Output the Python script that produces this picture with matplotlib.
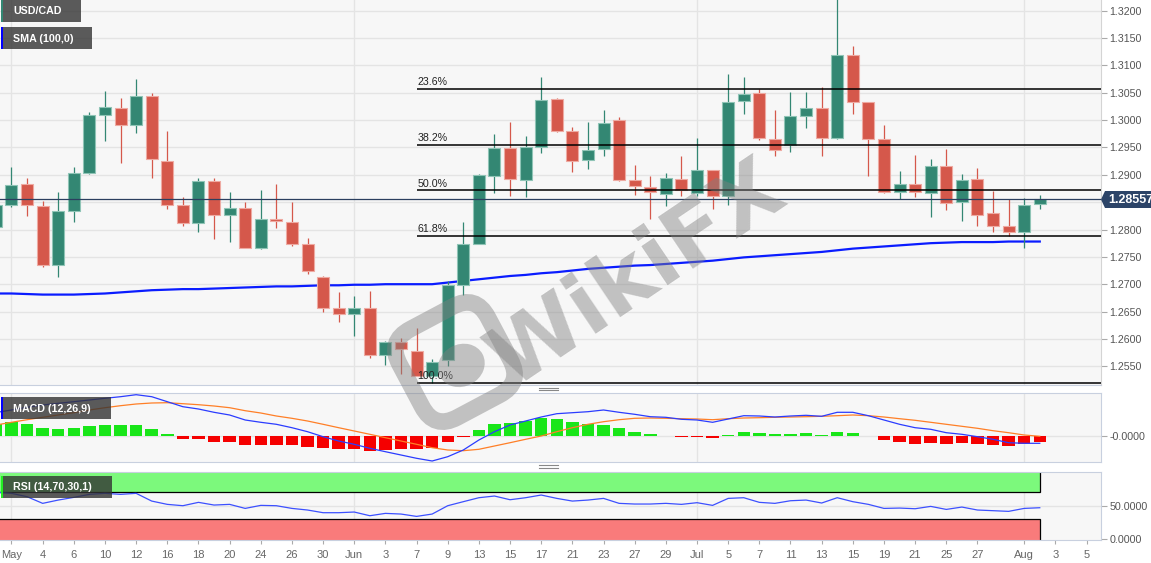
import numpy as np
import pandas as pd
import matplotlib
matplotlib.use('Agg')
import matplotlib.pyplot as plt
from matplotlib.patches import Rectangle, FancyBboxPatch, Polygon, Ellipse
from matplotlib.transforms import Affine2D

plt.rcParams['font.family'] = ['Liberation Sans', 'DejaVu Sans']

# daily USD/CAD candles, Apr 29 - Aug 2 2022
dates = pd.bdate_range('2022-04-29', '2022-08-02')
opens = [1.2805, 1.2845, 1.2883, 1.2843, 1.2736, 1.2834, 1.2903, 1.3010, 1.3023, 1.2991,
         1.3044, 1.2925, 1.2844, 1.2811, 1.2888, 1.2826, 1.2839, 1.2767, 1.2819, 1.2814,
         1.2774, 1.2713, 1.2656, 1.2646, 1.2656, 1.2570, 1.2594, 1.2578, 1.2532, 1.2561,
         1.2699, 1.2774, 1.2898, 1.2949, 1.2890, 1.2951, 1.3038, 1.2980, 1.2927, 1.2947,
         1.3000, 1.2890, 1.2878, 1.2865, 1.2892, 1.2866, 1.2908, 1.2862, 1.3035, 1.3050,
         1.2965, 1.2954, 1.3007, 1.3023, 1.2967, 1.3119, 1.3033, 1.2965, 1.2869, 1.2883,
         1.2867, 1.2917, 1.2850, 1.2892, 1.2831, 1.2807, 1.2795, 1.2847]
highs = [1.2880, 1.2914, 1.2894, 1.2853, 1.2868, 1.2914, 1.3015, 1.3053, 1.3040, 1.3076,
         1.3049, 1.2981, 1.2859, 1.2895, 1.2894, 1.2868, 1.2850, 1.2873, 1.2884, 1.2850,
         1.2784, 1.2715, 1.2686, 1.2678, 1.2688, 1.2596, 1.2601, 1.2620, 1.2564, 1.2705,
         1.2813, 1.2901, 1.2975, 1.2996, 1.2971, 1.3078, 1.3040, 1.2988, 1.2996, 1.3018,
         1.3005, 1.2918, 1.2897, 1.2903, 1.2935, 1.2968, 1.2909, 1.3084, 1.3078, 1.3056,
         1.3018, 1.3051, 1.3051, 1.3060, 1.3223, 1.3135, 1.3034, 1.2991, 1.2907, 1.2937,
         1.2929, 1.2947, 1.2902, 1.2912, 1.2871, 1.2856, 1.2857, 1.2863]
lows = [1.2795, 1.2841, 1.2825, 1.2731, 1.2713, 1.2813, 1.2901, 1.2961, 1.2921, 1.2977,
        1.2894, 1.2837, 1.2807, 1.2796, 1.2782, 1.2777, 1.2766, 1.2764, 1.2802, 1.2769,
        1.2718, 1.2650, 1.2630, 1.2605, 1.2565, 1.2552, 1.2536, 1.2532, 1.2519, 1.2550,
        1.2680, 1.2773, 1.2866, 1.2862, 1.2860, 1.2939, 1.2979, 1.2906, 1.2911, 1.2935,
        1.2889, 1.2863, 1.2819, 1.2843, 1.2861, 1.2862, 1.2837, 1.2845, 1.3012, 1.2964,
        1.2935, 1.2941, 1.2985, 1.2935, 1.2966, 1.3012, 1.2898, 1.2866, 1.2855, 1.2860,
        1.2822, 1.2835, 1.2816, 1.2807, 1.2795, 1.2789, 1.2767, 1.2837]
closes = [1.2845, 1.2881, 1.2844, 1.2736, 1.2834, 1.2903, 1.3009, 1.3024, 1.2991, 1.3044,
          1.2928, 1.2845, 1.2811, 1.2889, 1.2826, 1.2839, 1.2767, 1.2819, 1.2816, 1.2774,
          1.2725, 1.2656, 1.2646, 1.2656, 1.2570, 1.2594, 1.2581, 1.2532, 1.2558, 1.2699,
          1.2774, 1.2899, 1.2949, 1.2892, 1.2951, 1.3037, 1.2980, 1.2925, 1.2946, 1.2994,
          1.2890, 1.2879, 1.2869, 1.2894, 1.2873, 1.2908, 1.2862, 1.3034, 1.3047, 1.2967,
          1.2945, 1.3007, 1.3023, 1.2967, 1.3119, 1.3033, 1.2965, 1.2869, 1.2883, 1.2868,
          1.2917, 1.2848, 1.2891, 1.2827, 1.2807, 1.2795, 1.2845, 1.28557]
sma100 = [1.2683, 1.2683, 1.2682, 1.2681, 1.2681, 1.2681, 1.2682, 1.2683, 1.2685, 1.2687,
          1.2689, 1.2690, 1.2691, 1.2691, 1.2692, 1.2693, 1.2694, 1.2695, 1.2696, 1.2696,
          1.2697, 1.2698, 1.2698, 1.2699, 1.2699, 1.2700, 1.2700, 1.2700, 1.2700, 1.2703,
          1.2706, 1.2709, 1.2712, 1.2715, 1.2717, 1.2720, 1.2722, 1.2725, 1.2728, 1.2730,
          1.2732, 1.2734, 1.2735, 1.2737, 1.2739, 1.2741, 1.2743, 1.2746, 1.2749, 1.2751,
          1.2753, 1.2755, 1.2757, 1.2759, 1.2762, 1.2765, 1.2767, 1.2769, 1.2771, 1.2773,
          1.2775, 1.2776, 1.2777, 1.2777, 1.2777, 1.2778, 1.2778, 1.2778]

# MACD (12,26,9), in units of 1e-4
macd_line = [23.5, 26, 28.7, 31, 32.7, 34.3, 36, 37.7, 39.3, 41.3, 39.3, 34.3, 29.3, 27, 23.7,
             21, 16, 13.7, 11.7, 8.3, 4.3, -0.7, -5,
             -8.3, -12.3, -15.7, -19, -22.3, -25, -20.7, -14, -4, 4.3, 11, 15, 19, 22.3, 23.3,
             24.3, 26, 23.7, 21.7, 19.3, 18.7, 16.7,
             16, 13.7, 17, 20.3, 20, 19, 20, 20.7, 19.7, 23.7, 23.7, 20.3, 16, 11.7, 8.3, 6.7,
             3.3, 1.7, -0.7, -3.3, -6.7,
             -7.3, -7.3]
signal_line = [11, 13.7, 16.3, 18.7, 21, 23.3, 26, 28.3, 30.3, 32, 33, 33.3, 32.3, 31.3, 30,
               28.3, 25.3, 23, 20, 17.7, 15, 11.7, 8.3,
               5, 1.7, -1.7, -5, -8.3, -11.7, -14, -14.7, -13.3, -10, -6.7, -3.3, 0, 4.3, 8.3,
               11.7, 14.3, 16.3, 17.7, 18, 17.7, 17.3,
               17, 16.3, 17.3, 18, 18.3, 18.7, 19, 19.3, 19.7, 20.3, 21, 20.3, 19, 17.3, 15.7,
               13.7, 11.7, 9.7, 7.7, 5.3, 3.3,
               1, -0.3]
macd_hist = [11.7, 13.7, 11.7, 7.7, 6.7, 7.7, 10.3, 11.3, 10.7, 10.7, 7, 1.7, -3, -3.3, -5.7,
             -6.3, -9, -9, -9, -9, -10.7, -12.3, -13.3,
             -13.3, -15, -14, -13.3, -13, -12, -6.3, -1.3, 6.3, 11.7, 13.3, 15.3, 18, 17.3, 14.3,
             12, 11.3, 8, 4.3, 2, 0.5, -1,
             -1, -2.3, 1.3, 3.7, 3, 1.7, 2, 2.7, 1, 3.7, 3, 0, -3.7, -6, -7.7, -7, -8.3, -7.3,
             -8.3, -9.3, -9.7,
             -7.7, -6]
rsi = [70, 68.4, 63.4, 53.5, 58.4, 62.4, 66.9, 68.4, 66.9, 68.4, 56.9, 52, 50, 55, 51, 52,
       46, 50.5, 50, 46, 43.6, 39.6, 39.6,
       40.6, 35.1, 38.6, 37.6, 34.1, 37.6, 50, 56, 61.9, 64.4, 58.9, 61.9, 65.9, 60.9, 56.9,
       58.4, 60.9, 53.5, 52.5, 52.5, 53.5, 52,
       54.5, 50.5, 60.9, 61.9, 55, 53.5, 57.4, 58.4, 54, 61.9, 56, 52, 46, 46.5, 45.5, 49,
       44.5, 48, 43.6, 42.6, 41.6,
       46, 47]

fib_high = 1.3223
fib_low = 1.2520
fib_levels = [0.236, 0.382, 0.5, 0.618, 1.0]
fib_start = '2022-06-07'
last_price = 1.28557

tick_dates = ['2022-05-02', '2022-05-04', '2022-05-06', '2022-05-10', '2022-05-12', '2022-05-16',
              '2022-05-18', '2022-05-20', '2022-05-24', '2022-05-26', '2022-05-30', '2022-06-01',
              '2022-06-03', '2022-06-07', '2022-06-09', '2022-06-13', '2022-06-15', '2022-06-17',
              '2022-06-21', '2022-06-23', '2022-06-27', '2022-06-29', '2022-07-01', '2022-07-05',
              '2022-07-07', '2022-07-11', '2022-07-13', '2022-07-15', '2022-07-19', '2022-07-21',
              '2022-07-25', '2022-07-27', '2022-08-01', '2022-08-03', '2022-08-05']
tick_labels = ['May', '4', '6', '10', '12', '16', '18', '20', '24', '26', '30', 'Jun', '3', '7', '9',
               '13', '15', '17', '21', '23', '27', '29', 'Jul', '5', '7', '11', '13', '15', '19',
               '21', '25', '27', 'Aug', '3', '5']
month_starts = ['2022-05-02', '2022-06-01', '2022-07-01', '2022-08-01']

o = np.array(opens); h = np.array(highs); l = np.array(lows); c = np.array(closes)
base = '2022-05-02'
x = np.busday_count(base, dates.values.astype('datetime64[D]'))
xt = np.busday_count(base, np.array(tick_dates, dtype='datetime64[D]'))
xm = np.busday_count(base, np.array(month_starts, dtype='datetime64[D]'))
xf = np.busday_count(base, np.datetime64(fib_start))

W, H = 1151, 563
fig = plt.figure(figsize=(W / 100, H / 100), dpi=100)
fig.patch.set_facecolor('white')


def px_rect(x0, y0, x1, y1):
    return [x0 / W, 1 - y1 / H, (x1 - x0) / W, (y1 - y0) / H]


ax = fig.add_axes(px_rect(0, 0, 1101, 385))
ax_m = fig.add_axes(px_rect(0, 393.3, 1101, 462.3))
ax_r = fig.add_axes(px_rect(0, 472.3, 1101, 540))

xlim = (-0.738, 69.93)
grid_c = '#e4e4e4'
spine_c = '#c8d0df'
tick_c = '#555555'
fs = 7.7

for a in (ax, ax_m, ax_r):
    a.set_facecolor('#f7f7f7')
    a.set_xlim(*xlim)
    a.yaxis.tick_right()
    a.tick_params(axis='y', length=4, width=0.8, color='#aaaaaa', labelcolor=tick_c,
                  labelsize=fs, pad=2)
    for s in a.spines.values():
        s.set_color(spine_c)
    a.spines['left'].set_visible(False)
    for xv in xm:
        a.axvline(xv, color=grid_c, lw=1, zorder=0)
    a.set_xticks(xt)

ax.tick_params(axis='x', bottom=False, labelbottom=False)
ax_m.tick_params(axis='x', bottom=False, labelbottom=False)
ax_r.tick_params(axis='x', length=3, color='#aaaaaa', labelcolor='#666666', labelsize=8, pad=4)
ax_r.set_xticklabels(tick_labels)
ax.spines['top'].set_visible(False)
ax.spines['right'].set_color('#d4d4d4')

# main price panel
ax.set_ylim(1.25157, 1.32196)
yt = np.round(np.arange(1.2550, 1.32001, 0.005), 4)
yt = yt[np.abs(yt - 1.2850) > 1e-6]
ax.set_yticks(yt)
ax.set_yticklabels([f'{v:.4f}' for v in yt])
for v in np.arange(1.2550, 1.32001, 0.005):
    ax.axhline(v, color=grid_c, lw=1, zorder=0)

green = '#338773'
red = '#d5584b'
up = c >= o
cols = np.where(up, green, red)
edges = np.where(up, '#8fc4b6', '#eeaaa2')
ax.plot(x, sma100, color='#0a1cff', lw=1.6, zorder=2)
ax.vlines(x, l, h, colors=cols, lw=0.9, zorder=3)
body = np.maximum(np.abs(c - o), 0.00018)
ax.bar(x, body, bottom=np.minimum(o, c), width=0.77, color=cols, edgecolor=edges,
       linewidth=0.8, zorder=4)

for lv in fib_levels:
    val = fib_high - lv * (fib_high - fib_low)
    ax.hlines(val, xf, xlim[1], color='black', lw=1.1, zorder=5)
    ax.text(xf + 0.05, val + 0.0003, f'{lv * 100:.1f}%', fontsize=fs, color='#222222',
            ha='left', va='bottom', zorder=5)

ax.axhline(last_price, color='#2b3f5f', lw=0.9, zorder=5)

# MACD panel
mh = np.array(macd_hist) * 1e-4
ax_m.set_ylim(-0.00263, 0.00427)
ax_m.axhline(0, color=grid_c, lw=1, zorder=0)
ax_m.bar(x, mh, width=0.8, color=np.where(mh >= 0, '#19e619', '#f50000'), zorder=2)
ax_m.plot(x, np.array(signal_line) * 1e-4, color='#ff7f27', lw=0.9, zorder=3)
ax_m.plot(x, np.array(macd_line) * 1e-4, color='#2b3cff', lw=0.9, zorder=4)
ax_m.set_yticks([0])
ax_m.set_yticklabels(['-0.0000'])

# RSI panel
ax_r.set_ylim(-1.0, 99.7)
ax_r.axhline(50, color=grid_c, lw=1, zorder=0)
ax_r.add_patch(Rectangle((-2, 70), x[-1] + 2, 40, facecolor='#7cf97c', edgecolor='black',
                         lw=0.9, zorder=1))
ax_r.add_patch(Rectangle((-2, -10), x[-1] + 2, 40, facecolor='#f97b7b', edgecolor='black',
                         lw=0.9, zorder=1))
ax_r.plot(x, rsi, color='#3c50ff', lw=0.9, zorder=3)
ax_r.set_yticks([0, 50])
ax_r.set_yticklabels(['0.0000', '50.0000'])

# overlay: legend tags, price tag, handles, watermark
ov = fig.add_axes([0, 0, 1, 1])
ov.set_xlim(0, W)
ov.set_ylim(H, 0)
ov.axis('off')
ov.patch.set_alpha(0)

tags = [(0, 22, 81, 'USD/CAD', green),
        (27.3, 48.7, 92, 'SMA (100,0)', '#0000ff'),
        (397.3, 419.3, 111, 'MACD (12,26,9)', '#0000ff'),
        (476, 497.7, 112, 'RSI (14,70,30,1)', '#22ee22')]
for y0, y1, x1, label, sc in tags:
    ov.add_patch(Rectangle((1, y0), x1 - 1, y1 - y0, facecolor='#333333', alpha=0.8, lw=0))
    ov.add_patch(Rectangle((1, y0), 2.5, y1 - y0, facecolor=sc, lw=0))
    ov.text(13, (y0 + y1) / 2 + 0.5, label, color='white', fontsize=fs, fontweight='bold',
            ha='left', va='center')

ov.add_patch(Polygon([[1101, 199.5], [1105, 191], [1152, 191], [1152, 208], [1105, 208]],
                     closed=True, facecolor='#2c4468', lw=0))
ov.text(1108, 200, f'{last_price:.5f}', color='white', fontsize=9, fontweight='bold',
        ha='left', va='center', clip_on=True)

for yy in (389, 466.5):
    ov.plot([539, 558], [yy - 1.3, yy - 1.3], color='#888888', lw=0.8)
    ov.plot([539, 558], [yy + 1.3, yy + 1.3], color='#888888', lw=0.8)

wm = '#808080'
ov.text(637, 275, 'WikiFX', fontsize=62, fontweight='bold', color=wm, alpha=0.45,
        rotation=34, ha='center', va='center', family='DejaVu Sans')
tr = Affine2D().rotate_deg(-28).translate(455, 362) + ov.transData
ov.add_patch(FancyBboxPatch((-50, -50), 100, 100, boxstyle='round,pad=0,rounding_size=26',
                            facecolor='none', edgecolor=wm, lw=12, alpha=0.45, transform=tr))
ov.add_patch(Ellipse((4, 6), 48, 42, facecolor=wm, alpha=0.45, lw=0, transform=tr))

fig.savefig('out.png', dpi=100, facecolor='white')
